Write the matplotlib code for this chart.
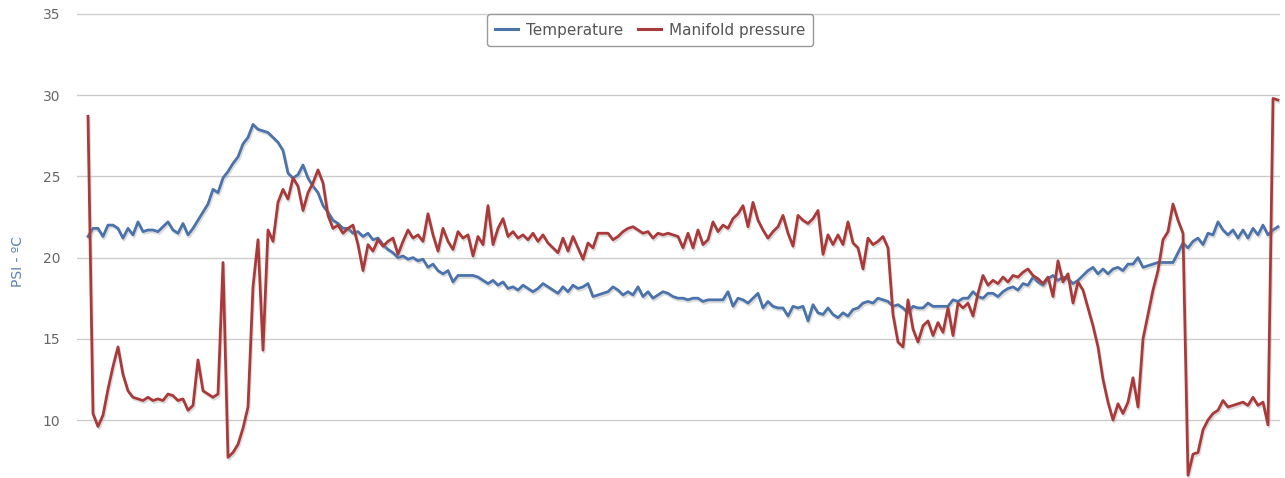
import matplotlib
matplotlib.use("Agg")
import matplotlib.pyplot as plt
import matplotlib.patheffects as pe
import numpy as np

plt.rcParams['font.family'] = ['DejaVu Sans']

# Sample values (uniformly spaced samples in time)
temperature = [
    21.3, 21.8, 21.8, 21.3, 22.0, 22.0, 21.8, 21.2, 21.8, 21.4,
    22.2, 21.6, 21.7, 21.7, 21.6, 21.9, 22.2, 21.7, 21.5, 22.1,
    21.4, 21.8, 22.3, 22.8, 23.3, 24.2, 24.0, 24.9, 25.3, 25.8,
    26.2, 27.0, 27.4, 28.2, 27.9, 27.8, 27.7, 27.4, 27.1, 26.6,
    25.2, 24.9, 25.1, 25.7, 24.9, 24.4, 24.0, 23.2, 22.8, 22.3,
    22.1, 21.8, 21.8, 21.5, 21.6, 21.3, 21.5, 21.1, 21.2, 20.8,
    20.5, 20.3, 20.0, 20.1, 19.9, 20.0, 19.8, 19.9, 19.4, 19.6,
    19.2, 19.0, 19.2, 18.5, 18.9, 18.9, 18.9, 18.9, 18.8, 18.6,
    18.4, 18.6, 18.3, 18.5, 18.1, 18.2, 18.0, 18.3, 18.1, 17.9,
    18.1, 18.4, 18.2, 18.0, 17.8, 18.2, 17.9, 18.3, 18.1, 18.2,
    18.4, 17.6, 17.7, 17.8, 17.9, 18.2, 18.0, 17.7, 17.9, 17.7,
    18.2, 17.6, 17.9, 17.5, 17.7, 17.9, 17.8, 17.6, 17.5, 17.5,
    17.4, 17.5, 17.5, 17.3, 17.4, 17.4, 17.4, 17.4, 17.9, 17.0,
    17.5, 17.4, 17.2, 17.5, 17.8, 16.9, 17.3, 17.0, 16.9, 16.9,
    16.4, 17.0, 16.9, 17.0, 16.1, 17.1, 16.6, 16.5, 16.9, 16.5,
    16.3, 16.6, 16.4, 16.8, 16.9, 17.2, 17.3, 17.2, 17.5, 17.4,
    17.3, 17.0, 17.1, 16.9, 16.6, 17.0, 16.9, 16.9, 17.2, 17.0,
    17.0, 17.0, 17.0, 17.4, 17.3, 17.5, 17.5, 17.9, 17.6, 17.5,
    17.8, 17.8, 17.6, 17.9, 18.1, 18.2, 18.0, 18.4, 18.3, 18.8,
    18.5, 18.3, 18.7, 18.9, 18.6, 18.8, 18.7, 18.4, 18.6, 18.9,
    19.2, 19.4, 19.0, 19.3, 19.0, 19.3, 19.4, 19.2, 19.6, 19.6,
    20.0, 19.4, 19.5, 19.6, 19.7, 19.7, 19.7, 19.7, 20.3, 20.9,
    20.6, 21.0, 21.2, 20.8, 21.5, 21.4, 22.2, 21.7, 21.4, 21.7,
    21.2, 21.7, 21.2, 21.8, 21.4, 22.0, 21.4, 21.7, 21.9,
]

manifold_pressure = [
    28.7, 10.4, 9.6, 10.3, 11.9, 13.3, 14.5, 12.8, 11.8, 11.4,
    11.3, 11.2, 11.4, 11.2, 11.3, 11.2, 11.6, 11.5, 11.2, 11.3,
    10.6, 10.9, 13.7, 11.8, 11.6, 11.4, 11.6, 19.7, 7.7, 8.0,
    8.5, 9.5, 10.8, 18.2, 21.1, 14.3, 21.7, 21.0, 23.4, 24.2,
    23.6, 24.9, 24.4, 22.9, 24.0, 24.6, 25.4, 24.6, 22.6, 21.8,
    22.0, 21.5, 21.8, 22.0, 20.8, 19.2, 20.8, 20.4, 21.1, 20.7,
    21.0, 21.2, 20.2, 21.0, 21.7, 21.2, 21.4, 21.0, 22.7, 21.4,
    20.4, 21.8, 21.0, 20.5, 21.6, 21.2, 21.4, 20.1, 21.3, 20.8,
    23.2, 20.8, 21.8, 22.4, 21.3, 21.6, 21.2, 21.4, 21.1, 21.5,
    21.0, 21.4, 20.9, 20.6, 20.3, 21.2, 20.4, 21.3, 20.6, 19.9,
    20.9, 20.6, 21.5, 21.5, 21.5, 21.1, 21.3, 21.6, 21.8, 21.9,
    21.7, 21.5, 21.6, 21.2, 21.5, 21.4, 21.5, 21.4, 21.3, 20.6,
    21.5, 20.6, 21.7, 20.8, 21.1, 22.2, 21.6, 22.0, 21.8, 22.4,
    22.7, 23.2, 21.9, 23.4, 22.3, 21.7, 21.2, 21.6, 21.9, 22.6,
    21.5, 20.7, 22.6, 22.3, 22.1, 22.4, 22.9, 20.2, 21.4, 20.8,
    21.4, 20.8, 22.2, 20.9, 20.6, 19.3, 21.2, 20.8, 21.0, 21.3,
    20.6, 16.5, 14.8, 14.5, 17.4, 15.6, 14.8, 15.8, 16.1, 15.2,
    16.0, 15.4, 16.9, 15.2, 17.2, 16.9, 17.2, 16.4, 17.8, 18.9,
    18.3, 18.6, 18.4, 18.8, 18.5, 18.9, 18.8, 19.1, 19.3, 18.9,
    18.7, 18.4, 18.8, 17.6, 19.8, 18.5, 19.0, 17.2, 18.5, 18.0,
    16.9, 15.8, 14.5, 12.5, 11.1, 10.0, 11.0, 10.4, 11.1, 12.6,
    10.8, 15.0, 16.5, 18.0, 19.2, 21.1, 21.6, 23.3, 22.3, 21.5,
    6.6, 7.9, 8.0, 9.4, 10.0, 10.4, 10.6, 11.2, 10.8, 10.9,
    11.0, 11.1, 10.9, 11.4, 10.9, 11.1, 9.7, 29.8, 29.7,
]

series_names = ["Temperature", "Manifold pressure"]
y_ticks = [10, 15, 20, 25, 30, 35]
y_label = "PSI - ºC"

W, H = 1285, 478
fig = plt.figure(figsize=(W / 100, H / 100), dpi=100)
ax = fig.add_axes([77 / W, 0.0, (1280 - 77) / W, 1.0])

t = np.arange(len(temperature))
shadow = [pe.SimpleLineShadow(offset=(0.8, -1.5), shadow_color='#999999', alpha=0.35), pe.Normal()]
ax.plot(t, temperature, color='#4a72ab', lw=2.0, label=series_names[0],
        path_effects=shadow, solid_joinstyle='round', zorder=3)
ax.plot(t, manifold_pressure, color='#aa3a3a', lw=2.0, label=series_names[1],
        path_effects=shadow, solid_joinstyle='round', zorder=3)

ax.set_xlim(-2.2, 238.4)
ax.set_ylim(6.43, 35.86)
ax.set_yticks(y_ticks)
ax.set_yticklabels([str(v) for v in y_ticks])
ax.set_xticks([])
ax.tick_params(axis='y', length=0, pad=12, labelsize=10, labelcolor='#666666')
ax.grid(axis='y', color='#cccccc', lw=1.0)
ax.set_axisbelow(True)
for s in ax.spines.values():
    s.set_visible(False)

ax.set_ylabel(y_label, color='#5a7fb0', fontsize=10)
ax.yaxis.set_label_coords(-0.043, 0.452)

leg = fig.legend(loc='center', bbox_to_anchor=(650 / W, 1 - 30 / H), ncol=2,
                 frameon=True, fancybox=True, fontsize=11, handlelength=1.5,
                 handletextpad=0.5, columnspacing=1.0, borderpad=0.55,
                 edgecolor='#999999', facecolor='white', framealpha=1.0)
for txt in leg.get_texts():
    txt.set_color('#555555')
for line in leg.get_lines():
    line.set_path_effects([])
    line.set_linewidth(2.2)

fig.savefig("out.png", dpi=100)
